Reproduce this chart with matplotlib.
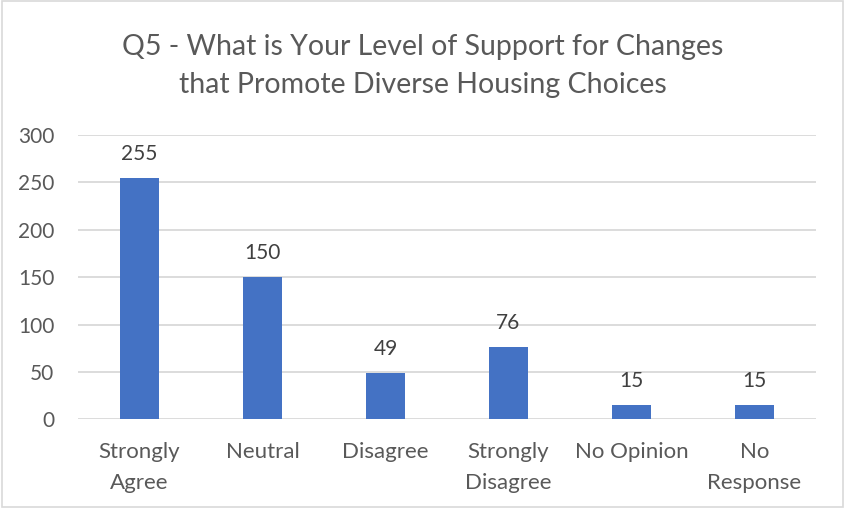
import matplotlib
matplotlib.use("Agg")
import matplotlib.pyplot as plt
from matplotlib.patches import Rectangle

categories = ["Strongly\nAgree", "Neutral", "Disagree", "Strongly\nDisagree", "No Opinion", "No\nResponse"]
values = [255, 150, 49, 76, 15, 15]
yticks = [0, 50, 100, 150, 200, 250, 300]
title = "Q5 - What is Your Level of Support for Changes\nthat Promote Diverse Housing Choices"

plt.rcParams['font.family'] = ['Lato', 'DejaVu Sans']
txt = "#595959"

fig = plt.figure(figsize=(8.45, 5.08), dpi=100)
ax = fig.add_axes([78/845, 1 - 419.3/508, (816 - 78)/845, (419.3 - 135)/508])

x = list(range(len(categories)))
bars = ax.bar(x, values, width=0.31, color="#4472C4", zorder=3)
for xi, v in zip(x, values):
    ax.annotate(str(v), (xi, v), xytext=(0, 10), textcoords="offset points",
                ha="center", va="bottom", fontsize=15, color="#404040")

ax.set_xlim(-0.5, len(categories) - 0.5)
ax.set_ylim(0, 300)
ax.set_yticks(yticks)
ax.set_xticks(x)
ax.set_xticklabels(categories, fontsize=16, color=txt, linespacing=1.68)
ax.tick_params(axis="y", labelsize=15, labelcolor=txt, length=0, pad=17)
ax.tick_params(axis="x", length=0, pad=16.5)
ax.grid(axis="y", color="#D9D9D9", linewidth=1.3, zorder=0)
for s in ax.spines.values():
    s.set_visible(False)

fig.text(0.500, 1 - 66/508, title, ha="center", va="center", fontsize=20.5,
         color=txt, linespacing=1.6)

fig.patches.append(Rectangle((0.002, 0.002), 0.996, 0.996, transform=fig.transFigure,
                             fill=False, edgecolor="#D9D9D9", linewidth=1.2))

fig.savefig("out.png", dpi=100)
